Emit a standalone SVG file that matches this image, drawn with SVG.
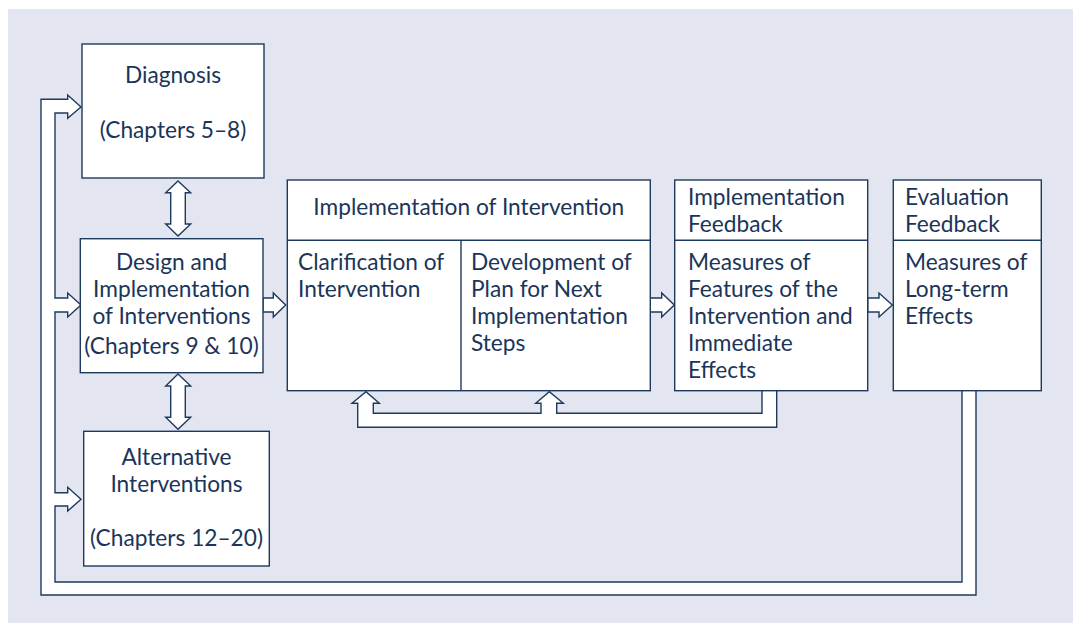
<svg xmlns="http://www.w3.org/2000/svg" width="1073" height="623" viewBox="0 0 1073 623">
<defs>
<style>
.box{fill:#ffffff;stroke:#1d3a5e;stroke-width:1.4}
.ln{fill:none;stroke:#1d3a5e;stroke-width:1.4}
.con{fill:#ffffff;stroke:#1d3a5e;stroke-width:1.4;stroke-linejoin:miter}
text{font-family:Lato,"Open Sans","Liberation Sans",sans-serif;font-size:22.7px;fill:#1b3559}
.c{text-anchor:middle}
</style>
</defs>
<rect x="8" y="9" width="1065" height="614" fill="#e3e6f0"/>

<g id="connectors">
<path class="con" d="M962,391 V582 H55 V506 H67.7 V511 L81,499.3 L67.7,487.3 V492.7 H55 V312 H67.7 V317 L81,305 L67.7,293 V298 H55 V113 H67.7 V118.3 L81,107 L67.7,95 V99.3 H41 V595 H976 V391"/>
<path class="con" d="M762,391 V413.3 H556.7 V403.3 H563.3 L549.3,391.7 L535.7,403.3 H541 V413.3 H373.3 V403.3 H379.3 L366,391.7 L352,403.3 H357.7 V427.3 H776.7 V391"/>
<path class="con" d="M263,298 H273.3 V293 L285.7,305 L273.3,317 V312 H263 Z"/>
<path class="con" d="M650,298 H661.7 V293 L674.3,305 L661.7,317 V312 H650 Z"/>
<path class="con" d="M867.7,298 H879 V293 L892.3,305 L879,317 V312 H867.7 Z"/>
<path class="con" d="M178,181 L190.7,192.7 H185.3 V224 H190.7 L178,236 L165.7,224 H170.7 V192.7 H165.7 Z"/>
<path class="con" d="M178,374 L190.7,386 H185.3 V417.3 H190.7 L178,429.3 L165.7,417.3 H170.7 V386 H165.7 Z"/>
</g>

<g id="diagnosis">
<rect class="box" x="82" y="44" width="182" height="134"/>
<text class="c" x="173" y="83">Diagnosis</text>
<text class="c" x="173" y="138">(Chapters 5–8)</text>
</g>

<g id="design">
<rect class="box" x="80.3" y="238.7" width="182.7" height="134"/>
<text class="c" x="171.5" y="270">Design and</text>
<text class="c" x="171.5" y="297">Implementation</text>
<text class="c" x="171.5" y="324">of Interventions</text>
<text class="c" x="171.5" y="354">(Chapters 9 &amp; 10)</text>
</g>

<g id="alternative">
<rect class="box" x="83.7" y="431.3" width="185.6" height="134.7"/>
<text class="c" x="176.5" y="465">Alternative</text>
<text class="c" x="176.5" y="492">Interventions</text>
<text class="c" x="176.5" y="545.5">(Chapters 12–20)</text>
</g>

<g id="implementation">
<rect class="box" x="287.3" y="180" width="363" height="210.7"/>
<line class="ln" x1="287.3" y1="240.3" x2="650.3" y2="240.3"/>
<line class="ln" x1="461" y1="240.3" x2="461" y2="390.7"/>
<text class="c" x="468.8" y="215">Implementation of Intervention</text>
<text x="298" y="270">Clarification of</text>
<text x="298" y="297">Intervention</text>
<text x="471" y="270">Development of</text>
<text x="471" y="297">Plan for Next</text>
<text x="471" y="324">Implementation</text>
<text x="471" y="351">Steps</text>
</g>

<g id="implementation-feedback">
<rect class="box" x="674.7" y="180" width="193" height="210.7"/>
<line class="ln" x1="674.7" y1="240.3" x2="867.7" y2="240.3"/>
<text x="688" y="205">Implementation</text>
<text x="688" y="232">Feedback</text>
<text x="688" y="270">Measures of</text>
<text x="688" y="297">Features of the</text>
<text x="688" y="324">Intervention and</text>
<text x="688" y="351">Immediate</text>
<text x="688" y="378">Effects</text>
</g>

<g id="evaluation-feedback">
<rect class="box" x="893.3" y="180" width="148" height="210.7"/>
<line class="ln" x1="893.3" y1="240.3" x2="1041.3" y2="240.3"/>
<text x="905" y="205">Evaluation</text>
<text x="905" y="232">Feedback</text>
<text x="905" y="270">Measures of</text>
<text x="905" y="297">Long-term</text>
<text x="905" y="324">Effects</text>
</g>
</svg>
